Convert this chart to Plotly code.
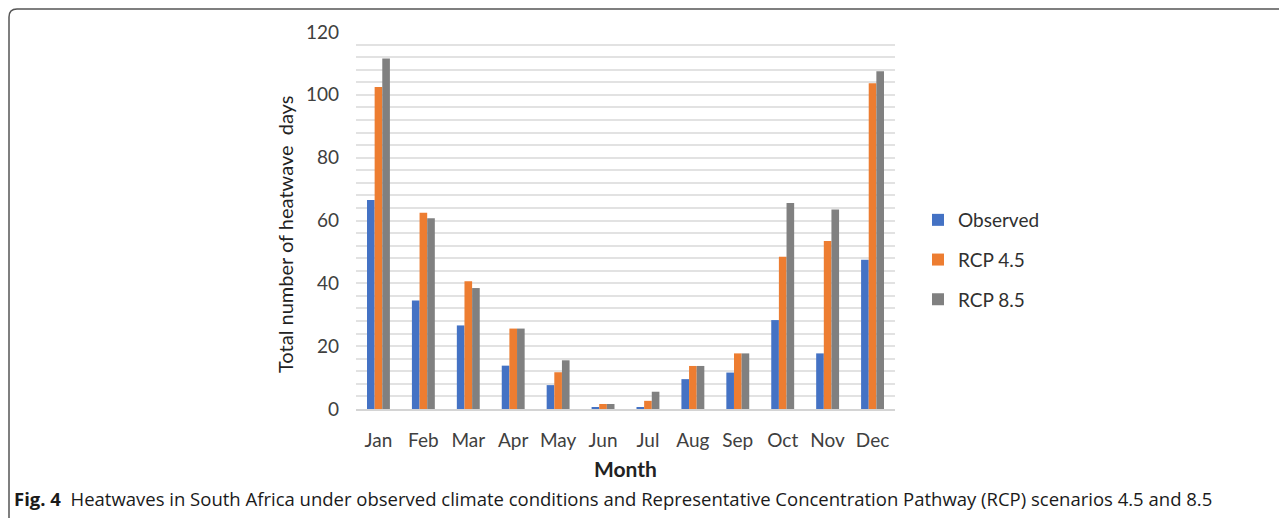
import plotly.graph_objects as go

months = ["Jan", "Feb", "Mar", "Apr", "May", "Jun", "Jul", "Aug", "Sep", "Oct", "Nov", "Dec"]
observed = [66.5, 34.5, 26.6, 13.8, 7.6, 0.5, 0.5, 9.5, 11.6, 28.3, 17.7, 47.5]
rcp45 = [102.5, 62.5, 40.7, 25.6, 11.7, 1.6, 2.6, 13.7, 17.7, 48.5, 53.5, 103.7]
rcp85 = [111.6, 60.7, 38.5, 25.6, 15.5, 1.6, 5.5, 13.7, 17.7, 65.6, 63.5, 107.5]
series_names = ["Observed", "RCP 4.5", "RCP 8.5"]
colors = ["#4472C4", "#ED7D31", "#808080"]
y_ticks = [0, 20, 40, 60, 80, 100, 120]

OFF = 8  # page body margin
W, H = 1287 - OFF, 518 - OFF
L, R, T, B = 356 - OFF, 895 - OFF, 32 - OFF, 409 - OFF
pw, ph = R - L, B - T

def px(x):  # screen x -> paper
    return (x - OFF - L) / pw

def py(y):  # screen y -> paper
    return 1 - (y - OFF - T) / ph

fig = go.Figure()
for i, (name, vals) in enumerate(zip(series_names, [observed, rcp45, rcp85])):
    fig.add_trace(go.Bar(x=months, y=vals, name=name, marker_color=colors[i],
                         marker_line_width=0, legendgroup=name))

tick_font = dict(family="Lato, Carlito, sans-serif", size=19, color="#404040")

fig.update_layout(
    width=W, height=H,
    margin=dict(l=L, r=W - R, t=T, b=H - B, pad=0),
    paper_bgcolor="white", plot_bgcolor="white",
    barmode="group", bargap=0.49, bargroupgap=0,
    font=tick_font,
    showlegend=True,
    legend=dict(x=px(918), y=py(260), xanchor="left", yanchor="middle",
                font=dict(family="Lato, sans-serif", size=19, color="#303030"),
                traceorder="grouped", tracegroupgap=12, bgcolor="rgba(0,0,0,0)"),
    xaxis=dict(showgrid=False, showline=True, linecolor="#d4d4d4", linewidth=2,
               ticks="", ticklabelstandoff=13, tickfont=tick_font),
    yaxis=dict(range=[0, 120], tickvals=y_ticks, showgrid=False, zeroline=False,
               showline=False, ticks="", ticklabelstandoff=16, tickfont=tick_font),
)
fig.update_yaxes(minor=dict(dtick=4, showgrid=True, gridcolor="#e2e2e2", gridwidth=1.6))

annotations = [
    dict(text="Total number of heatwave  days", x=px(285), y=py(235), textangle=-90,
         font=dict(family="Lato, sans-serif", size=20, color="#222222")),
    dict(text="<b>Month</b>", x=px(625), y=py(468),
         font=dict(family="Lato, sans-serif", size=21, color="#222222")),
    dict(text="<b>Fig. 4</b>  Heatwaves in South Africa under observed climate conditions and Representative Concentration Pathway (RCP) scenarios 4.5 and 8.5",
         x=px(12), y=py(498), xanchor="left",
         font=dict(family="Open Sans, sans-serif", size=18.5, color="#1a1a1a")),
]
for a in annotations:
    a.update(xref="paper", yref="paper", showarrow=False)
    if "xanchor" not in a:
        a["xanchor"] = "center"
    a["yanchor"] = "middle"
fig.update_layout(annotations=annotations)

# rounded frame (top and left edges)
path = (f"M {px(1300)},{py(9)} L {px(17)},{py(9)} "
        f"Q {px(9)},{py(9)} {px(9)},{py(17)} L {px(9)},{py(530)}")
fig.add_shape(type="path", path=path, xref="paper", yref="paper",
              line=dict(color="#555555", width=1.5))

fig.write_html("out.html")
